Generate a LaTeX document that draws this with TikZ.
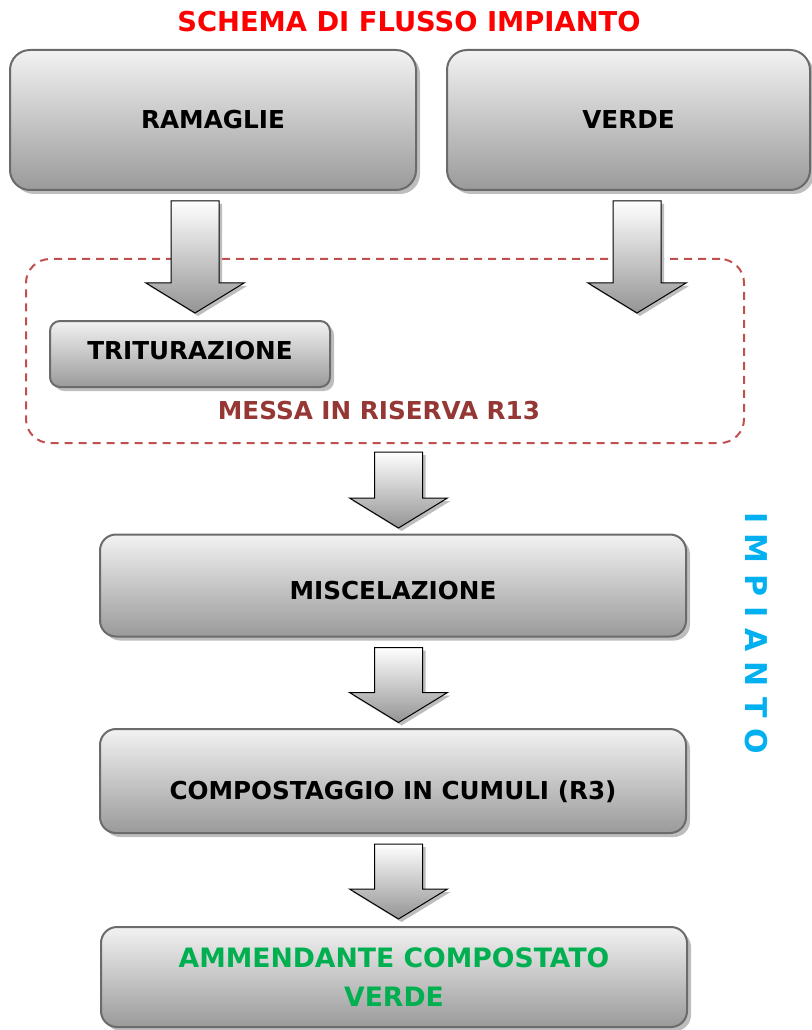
\documentclass[tikz,border=0pt]{standalone}
\usepackage{fontspec}
\setmainfont{DejaVu Sans}
\newfontfamily\spacedfont[LetterSpace=35]{DejaVu Sans}
\usetikzlibrary{shadows,calc}
\definecolor{titlered}{HTML}{FF0000}
\definecolor{rthirteen}{HTML}{953735}
\definecolor{dashred}{HTML}{C0504D}
\definecolor{impcyan}{HTML}{00B0F0}
\definecolor{prodgreen}{HTML}{00B050}
\definecolor{boxborder}{HTML}{6B6B6B}
\definecolor{boxtop}{HTML}{F2F2F2}
\definecolor{boxbot}{HTML}{9A9A9A}
\definecolor{shadowgray}{HTML}{BDBDBD}
\newcommand\arrowpath[1]{(-24,0) -- (24,0) -- (24,#1-30) -- (49,#1-30) -- (0,#1) -- (-49,#1-30) -- (-24,#1-30) -- cycle}
\tikzset{
  box/.style={draw=boxborder, line width=1.5pt, top color=boxtop, bottom color=boxbot,
    rounded corners=15pt, inner sep=0pt, font=\bfseries\fontsize{18.5}{22}\selectfont,
    text height=13.5pt, text depth=0pt,
    general shadow={fill=shadowgray, shadow xshift=3pt, shadow yshift=-3pt}},
  pics/barrow/.style={code={
    \fill[shadowgray, shift={(3,3)}] \arrowpath{#1};
    \draw[black, line width=0.75pt, top color=white, bottom color=black!42] \arrowpath{#1};
  }}
}
\begin{document}
\begin{tikzpicture}[x=0.75pt,y=-0.75pt]
\useasboundingbox (0,0) rectangle (811,1030);
% title
\node[text=titlered, font=\bfseries\fontsize{20.5}{24}\selectfont, inner sep=0pt] (title) at (409,22) {SCHEMA DI FLUSSO IMPIANTO};
% dashed R13 area
\node[draw=dashred, dash pattern=on 6pt off 4.5pt, line width=1.5pt, rounded corners=18pt,
  minimum width=538.5pt, minimum height=138pt, inner sep=0pt] (r13) at (385,351) {};
% boxes
\node[box, minimum width=304.5pt, minimum height=105pt] (ramaglie) at (213,120) {RAMAGLIE};
\node[box, minimum width=272.25pt, minimum height=105pt] (verde) at (628.5,120) {VERDE};
\node[box, rounded corners=7.5pt, minimum width=210pt, minimum height=49.5pt, text height=7.5pt] (tritur) at (190,354) {TRITURAZIONE};
\node[text=rthirteen, font=\bfseries\fontsize{18.5}{22}\selectfont, inner sep=0pt] (r13lbl) at (379,410.5) {MESSA IN RISERVA R13};
\node[box, rounded corners=12pt, minimum width=439.5pt, minimum height=76.5pt, text height=21.7pt] (misc) at (393,585.5) {MISCELAZIONE};
\node[box, rounded corners=12pt, minimum width=439.5pt, minimum height=78pt, text height=27pt] (compost) at (393,781) {COMPOSTAGGIO IN CUMULI (R3)};
\node[box, rounded corners=12pt, minimum width=439.5pt, minimum height=75pt, text height=, text depth=,
  align=center, text=prodgreen, font=\bfseries\fontsize{20}{29}\selectfont] (ammend) at (394,977) {AMMENDANTE COMPOSTATO\\VERDE};
% vertical label
\node[text=impcyan, font=\spacedfont\bfseries\fontsize{22.5}{26}\selectfont, rotate=-90, inner sep=0pt,
  text height=16.4pt, text depth=0pt] (impianto) at (756,633) {IMPIANTO};
% block arrows
\pic at ($(ramaglie.south)+(-18,10)$) {barrow=112};
\pic at ($(verde.south)+(8.5,10)$) {barrow=112};
\pic at ($(r13.south)+(13.5,8)$) {barrow=76};
\pic at ($(misc.south)+(5.5,10)$) {barrow=75};
\pic at ($(compost.south)+(5.5,10)$) {barrow=75};
\end{tikzpicture}
\end{document}
